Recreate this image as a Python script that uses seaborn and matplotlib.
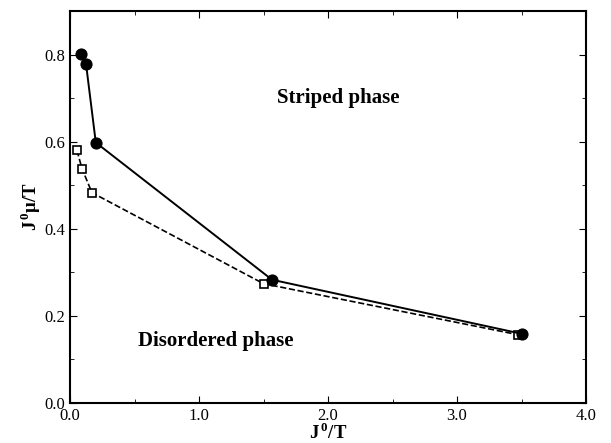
import matplotlib
matplotlib.use("Agg")
import matplotlib.pyplot as plt
import seaborn as sns
import pandas as pd
from matplotlib.ticker import MultipleLocator

# data
striped_x = [0.085, 0.124, 0.20, 1.566, 3.50]
striped_y = [0.802, 0.779, 0.598, 0.283, 0.159]
disord_x = [0.054, 0.093, 0.17, 1.50, 3.47]
disord_y = [0.580, 0.538, 0.483, 0.274, 0.157]

sns.set_style("ticks")
plt.rcParams['font.family'] = ['Liberation Serif', 'DejaVu Serif']
plt.rcParams['mathtext.fontset'] = 'custom'
plt.rcParams['mathtext.rm'] = 'Liberation Serif'
plt.rcParams['mathtext.bf'] = 'Liberation Serif:bold'
for k in ['text.color', 'axes.labelcolor', 'xtick.color', 'ytick.color', 'axes.edgecolor']:
    plt.rcParams[k] = 'black'

fig = plt.figure(figsize=(6.11, 4.43), dpi=100)
ax = fig.add_axes([70/611, 40/443, 516/611, 392/443])

df1 = pd.DataFrame({"x": striped_x, "y": striped_y})
df2 = pd.DataFrame({"x": disord_x, "y": disord_y})

sns.lineplot(data=df2, x="x", y="y", ax=ax, color="black", linestyle="--",
             linewidth=1.2, marker="s", markersize=6, markerfacecolor="white",
             markeredgecolor="black", markeredgewidth=1.2, sort=False)
sns.lineplot(data=df1, x="x", y="y", ax=ax, color="black", linestyle="-",
             linewidth=1.4, marker="o", markersize=8, markerfacecolor="black",
             markeredgecolor="black", sort=False)

ax.set_xlim(0, 4.0)
ax.set_ylim(0, 0.9)
ax.xaxis.set_major_locator(MultipleLocator(1.0))
ax.xaxis.set_minor_locator(MultipleLocator(0.5))
ax.yaxis.set_major_locator(MultipleLocator(0.2))
ax.yaxis.set_minor_locator(MultipleLocator(0.1))
ax.xaxis.set_major_formatter(plt.FormatStrFormatter('%.1f'))
ax.yaxis.set_major_formatter(plt.FormatStrFormatter('%.1f'))
ax.tick_params(which='both', direction='in', top=True, right=True, labelsize=12,
               colors='black')
ax.tick_params(which='major', length=5)
ax.tick_params(which='minor', length=3)
for s in ax.spines.values():
    s.set_linewidth(1.5)
    s.set_color('black')

ax.set_xlabel(r"J$^{\,\mathbf{0}}$/T", fontsize=13.5, fontweight='bold', labelpad=-1,
              color='black')
ax.set_ylabel(r"J$^{\,\mathbf{0}}$μ/T", fontsize=13.5, fontweight='bold', labelpad=1,
              color='black')

ax.text(2.08, 0.70, "Striped phase", fontsize=15, fontweight='bold', ha='center',
        va='center', color='black')
ax.text(0.53, 0.143, "Disordered phase", fontsize=15, fontweight='bold', ha='left',
        va='center', color='black')

fig.savefig("out.png", dpi=100)
